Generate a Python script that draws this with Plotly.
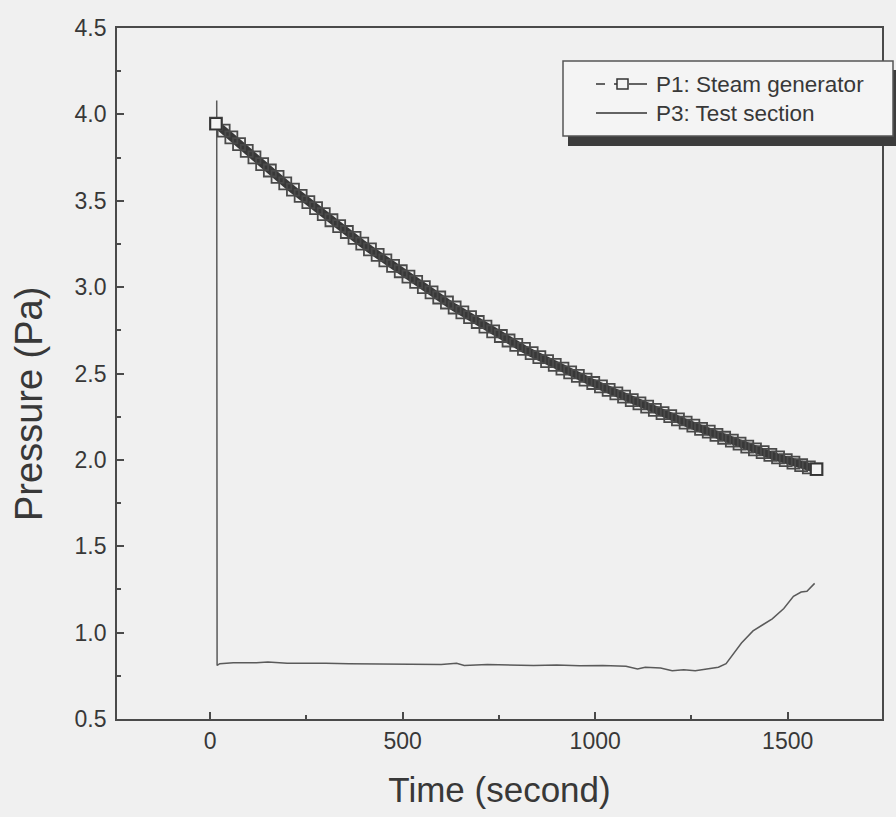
import plotly.graph_objects as go

# P1: steam generator pressure (Pa), sampled every 20 s
p1_time = [15, 35, 55, 75, 95, 115, 135, 155, 175, 195, 215, 235, 255, 275, 295,
           315, 335, 355, 375, 395, 415, 435, 455, 475, 495, 515, 535, 555, 575, 595,
           615, 635, 655, 675, 695, 715, 735, 755, 775, 795, 815, 835, 855, 875, 895,
           915, 935, 955, 975, 995, 1015, 1035, 1055, 1075, 1095, 1115, 1135, 1155,
           1175, 1195, 1215, 1235, 1255, 1275, 1295, 1315, 1335, 1355, 1375, 1395,
           1415, 1435, 1455, 1475, 1495, 1515, 1535, 1555, 1575]
p1_pressure = [3.946, 3.906, 3.867, 3.828, 3.789, 3.751, 3.712, 3.675, 3.638, 3.601,
               3.564, 3.528, 3.492, 3.457, 3.422, 3.387, 3.353, 3.319, 3.285, 3.252,
               3.219, 3.187, 3.155, 3.123, 3.092, 3.061, 3.030, 3.000, 2.970, 2.940,
               2.911, 2.882, 2.854, 2.826, 2.798, 2.771, 2.744, 2.717, 2.691, 2.666,
               2.642, 2.618, 2.595, 2.572, 2.550, 2.528, 2.507, 2.486, 2.465, 2.445,
               2.425, 2.405, 2.385, 2.366, 2.346, 2.327, 2.308, 2.289, 2.271, 2.253,
               2.234, 2.216, 2.198, 2.180, 2.163, 2.145, 2.128, 2.111, 2.094, 2.077,
               2.061, 2.045, 2.029, 2.014, 1.999, 1.984, 1.970, 1.957, 1.946]

# P3: test section pressure (Pa)
p3_time = [17, 18, 25, 60, 120, 150, 200, 260, 300, 360, 420, 480, 540, 600, 640,
           660, 720, 780, 840, 900, 960, 1020, 1080, 1110, 1130, 1170, 1200, 1230,
           1260, 1290, 1320, 1340, 1360, 1380, 1410, 1440, 1460, 1490, 1515, 1535,
           1550, 1570]
p3_pressure = [4.08, 0.81, 0.82, 0.825, 0.825, 0.83, 0.823, 0.82, 0.822, 0.82,
               0.818, 0.82, 0.817, 0.815, 0.822, 0.81, 0.815, 0.812, 0.81, 0.812,
               0.808, 0.81, 0.805, 0.79, 0.80, 0.795, 0.78, 0.785, 0.78, 0.79, 0.80,
               0.82, 0.88, 0.94, 1.01, 1.05, 1.08, 1.14, 1.21, 1.235, 1.24, 1.285]

legend_labels = ["P1: Steam generator", "P3: Test section"]
x_title = "Time (second)"
y_title = "Pressure (Pa)"

INK = "#383838"
AXIS = "#4a4a4a"
BG = "#f0f0f0"
FONT = "Liberation Sans, Arial, sans-serif"

W, H = 896, 817
ML, MR, MT, MB = 117, 14, 28, 98
PW, PH = W - ML - MR, H - MT - MB


def px(x):
    return (x - ML) / PW


def py(y):
    return (H - MB - y) / PH


fig = go.Figure()

fig.add_trace(go.Scatter(
    x=p3_time, y=p3_pressure, mode="lines", name=legend_labels[1],
    line=dict(color="#5a5a5a", width=1.5), showlegend=False,
))
# Dense open-square markers merge into a dark band
fig.add_trace(go.Scatter(
    x=p1_time, y=p1_pressure, mode="lines", showlegend=False, hoverinfo="skip",
    line=dict(color="#383838", width=8),
))
fig.add_trace(go.Scatter(
    x=p1_time, y=p1_pressure, mode="markers", name=legend_labels[0],
    marker=dict(symbol="square-open", size=12, color="#4a4a4a",
                line=dict(width=1.8, color="#3a3a3a")),
    showlegend=False,
))
# First and last samples stand out as clean open squares
fig.add_trace(go.Scatter(
    x=[p1_time[0], p1_time[-1]], y=[p1_pressure[0], p1_pressure[-1]],
    mode="markers", showlegend=False, hoverinfo="skip",
    marker=dict(symbol="square", size=11, color="#f4f4f4",
                line=dict(width=1.6, color="#333333")),
))

# Boxed legend with a drop shadow
shapes = [
    dict(type="rect", xref="paper", yref="paper", layer="above",
         x0=px(568), x1=px(896), y0=py(146), y1=py(70),
         fillcolor="#3c3c3c", line=dict(width=0)),
    dict(type="rect", xref="paper", yref="paper", layer="above",
         x0=px(563), x1=px(893), y0=py(136), y1=py(61),
         fillcolor="#f4f4f4", line=dict(color="#555555", width=1.5)),
    # P1 symbol: dashed lead-in, open square, solid tail
    dict(type="line", xref="paper", yref="paper", layer="above",
         x0=px(596), x1=px(617), y0=py(84), y1=py(84),
         line=dict(color="#333333", width=1.5, dash="dash")),
    dict(type="rect", xref="paper", yref="paper", layer="above",
         x0=px(617), x1=px(628), y0=py(89), y1=py(79),
         fillcolor="rgba(0,0,0,0)", line=dict(color="#333333", width=1.5)),
    dict(type="line", xref="paper", yref="paper", layer="above",
         x0=px(629), x1=px(647), y0=py(84), y1=py(84),
         line=dict(color="#333333", width=1.5)),
    # P3 symbol
    dict(type="line", xref="paper", yref="paper", layer="above",
         x0=px(596), x1=px(647), y0=py(113), y1=py(113),
         line=dict(color="#333333", width=1.5)),
]

annotations = [
    dict(xref="paper", yref="paper", x=px(654), y=py(84), xanchor="left",
         yanchor="middle", text=legend_labels[0], showarrow=False,
         font=dict(family=FONT, size=22.5, color=INK)),
    dict(xref="paper", yref="paper", x=px(654), y=py(113), xanchor="left",
         yanchor="middle", text=legend_labels[1], showarrow=False,
         font=dict(family=FONT, size=22.5, color=INK)),
    # y-axis title, sitting a little below the plot's mid-height
    dict(xref="paper", yref="paper", x=px(29), y=py(404), xanchor="center",
         yanchor="middle", text=y_title, textangle=-90, showarrow=False,
         font=dict(family=FONT, size=38, color=INK)),
]

fig.update_layout(
    width=W, height=H,
    margin=dict(l=ML, r=MR, t=MT, b=MB),
    paper_bgcolor=BG, plot_bgcolor=BG,
    font=dict(family=FONT, color=INK),
    shapes=shapes, annotations=annotations,
    showlegend=False,
)

fig.update_xaxes(
    range=[-242, 1745], dtick=500, tick0=0,
    showgrid=False, zeroline=False,
    showline=True, linecolor=AXIS, linewidth=1.8, mirror=True,
    ticks="inside", ticklen=7, tickwidth=1.5, tickcolor=AXIS,
    minor=dict(ticks="inside", ticklen=4, dtick=250, tickcolor=AXIS),
    tickfont=dict(family=FONT, size=23, color=INK),
    title=dict(text=x_title, standoff=25,
               font=dict(family=FONT, size=35, color=INK)),
)
fig.update_yaxes(
    range=[0.5, 4.5], dtick=0.5, tick0=0.5, tickformat=".1f",
    showgrid=False, zeroline=False,
    showline=True, linecolor=AXIS, linewidth=1.8, mirror=True,
    ticks="inside", ticklen=7, tickwidth=1.5, tickcolor=AXIS,
    minor=dict(ticks="inside", ticklen=4, dtick=0.25, tickcolor=AXIS),
    ticklabelstandoff=4,
    tickfont=dict(family=FONT, size=23, color=INK),
)

fig.write_html("out.html")
